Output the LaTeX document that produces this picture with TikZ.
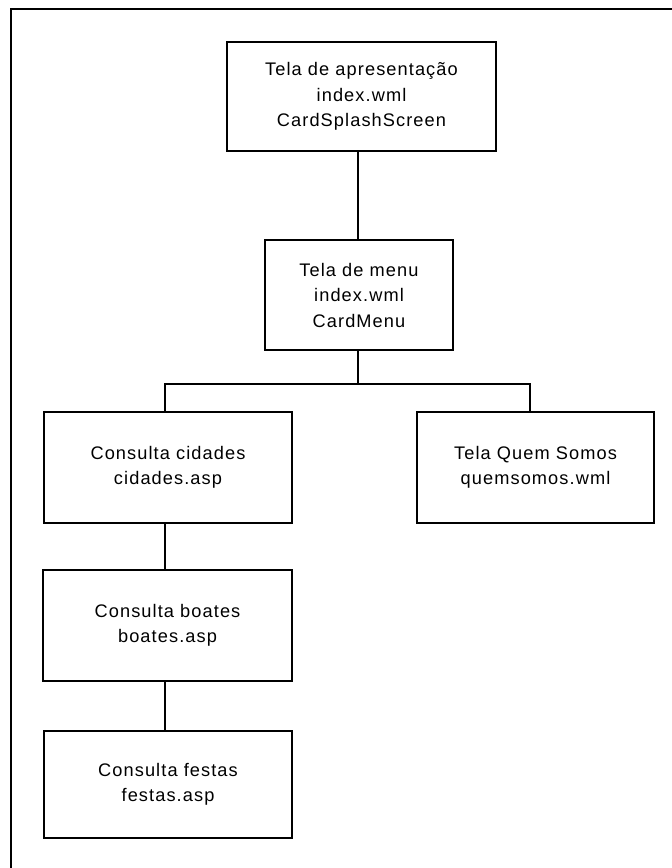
\documentclass[tikz,border=0pt]{standalone}
\usepackage{fontspec}
\setmainfont{Liberation Sans}[LetterSpace=6]
\begin{document}
\begin{tikzpicture}[x=1pt,y=-1pt,
  box/.style={draw=black,line width=1.5pt,rectangle,inner sep=0pt,align=center,
    font=\fontsize{18.2}{25.5}\selectfont},
  link/.style={draw=black,line width=1.5pt}]
\useasboundingbox (0,0) rectangle (672,868);
\fill[white] (0,0) rectangle (672,868);
% outer frame (only top and left edges visible)
\draw[line width=2pt,black] (11,868) -- (11,9) -- (672,9);
\node[box,minimum width=269pt,minimum height=109pt] (b1) at (361.5,96.5)
  {Tela de apresentação\\index.wml\\CardSplashScreen};
\node[box,minimum width=188pt,minimum height=110pt] (b2) at (359,295)
  {Tela de menu\\index.wml\\CardMenu};
\node[box,minimum width=248pt,minimum height=111pt] (b3) at (168,467.5)
  {Consulta cidades\\cidades.asp};
\node[box,minimum width=237pt,minimum height=111pt] (b4) at (535.5,467.5)
  {Tela Quem Somos\\quemsomos.wml};
\node[box,minimum width=249pt,minimum height=111pt] (b5) at (167.5,625.5)
  {Consulta boates\\boates.asp};
\node[box,minimum width=248pt,minimum height=107pt] (b6) at (168,784.5)
  {Consulta festas\\festas.asp};
\coordinate (j) at (358,384);
\draw[link] (b1.south -| j) -- (b2.north -| j);
\draw[link] (b2.south -| j) -- (j);
\draw[link] ([xshift=-3pt]b3.north) |- (j) -| ([xshift=-5.5pt]b4.north);
\draw[link] ([xshift=-3pt]b3.south) -- ([xshift=-3pt]b3.south |- b5.north);
\draw[link] ([xshift=-2.5pt]b5.south) -- ([xshift=-2.5pt]b5.south |- b6.north);
\end{tikzpicture}
\end{document}
